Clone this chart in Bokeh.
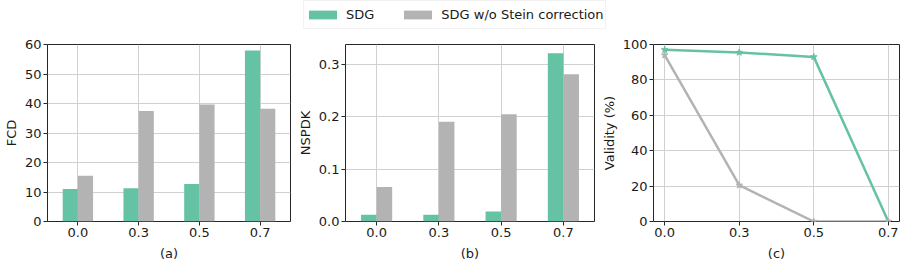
from bokeh.plotting import figure
from bokeh.layouts import column, row
from bokeh.models import (Range1d, FixedTicker, ColumnDataSource, Legend, LegendItem,
                          NumeralTickFormatter)
from bokeh.transform import dodge
from bokeh.embed import file_html
from bokeh.resources import INLINE

# ---- data ----
categories = ["0.0", "0.3", "0.5", "0.7"]
fcd_sdg = [11.0, 11.3, 12.7, 58.0]
fcd_nostein = [15.5, 37.5, 39.7, 38.2]
nspdk_sdg = [0.013, 0.013, 0.019, 0.322]
nspdk_nostein = [0.066, 0.191, 0.205, 0.282]
valid_sdg = [97.0, 95.5, 93.0, 0.0]
valid_nostein = [94.0, 20.5, 0.0, 0.0]
series_names = ["SDG", "SDG w/o Stein correction"]
sub_labels = ["(a)", "(b)", "(c)"]

GREEN = "#66c2a5"
GRAY = "#b3b3b3"
FONT = "DejaVu Sans"
FS = "13px"

xs = list(range(len(categories)))
overrides = {i: c for i, c in enumerate(categories)}


def style(p, ylabel, xlabel, yticks):
    p.outline_line_color = "#262626"
    p.outline_line_width = 1
    for ax in p.axis:
        ax.axis_line_color = None
        ax.major_tick_line_color = "#262626"
        ax.major_tick_out = 4
        ax.major_tick_in = 0
        ax.minor_tick_line_color = None
        ax.major_label_text_font = FONT
        ax.major_label_text_font_size = FS
        ax.major_label_text_color = "#1a1a1a"
        ax.axis_label_text_font = FONT
        ax.axis_label_text_font_size = FS
        ax.axis_label_text_font_style = "normal"
        ax.axis_label_text_color = "#1a1a1a"
        ax.major_label_standoff = 2
        ax.axis_label_standoff = 3
    p.xaxis.ticker = FixedTicker(ticks=xs)
    p.xaxis.major_label_overrides = overrides
    p.yaxis.ticker = FixedTicker(ticks=yticks)
    p.xaxis.axis_label = xlabel
    p.yaxis.axis_label = ylabel
    p.xaxis.axis_label_standoff = 6
    p.grid.grid_line_color = "#d0d0d0"
    p.grid.grid_line_width = 1
    p.background_fill_color = "white"


def make_fig(width, left, right, yr, xr):
    return figure(width=width, height=229, output_backend="svg", toolbar_location=None,
                  min_border_left=left, min_border_right=right, min_border_top=10,
                  min_border_bottom=42, x_range=xr, y_range=yr)


def bar_panel(width, left, right, a, b, ymax, ylabel, xlabel, yticks):
    p = make_fig(width, left, right, Range1d(0, ymax), Range1d(-0.5, 3.5))
    src = ColumnDataSource(dict(x=xs, a=a, b=b))
    p.vbar(x=dodge("x", -0.125), top="a", width=0.25, source=src,
           fill_color=GREEN, line_color=None)
    p.vbar(x=dodge("x", 0.125), top="b", width=0.25, source=src,
           fill_color=GRAY, line_color=None)
    style(p, ylabel, xlabel, yticks)
    return p


pa = bar_panel(294, 35, 4, fcd_sdg, fcd_nostein, 60, "FCD", sub_labels[0],
               [0, 10, 20, 30, 40, 50, 60])
pb = bar_panel(304, 45, 4, nspdk_sdg, nspdk_nostein, 0.3387, "NSPDK", sub_labels[1],
               [0, 0.1, 0.2, 0.3])
pb.yaxis.formatter = NumeralTickFormatter(format="0.0")

pc = make_fig(306, 48, 5, Range1d(0, 100), Range1d(-0.15, 3.15))
srcc = ColumnDataSource(dict(x=xs, a=valid_sdg, b=valid_nostein))
pc.line("x", "a", source=srcc, line_color=GREEN, line_width=2.5)
pc.scatter("x", "a", source=srcc, marker="star", size=7, fill_color=GREEN, line_color=GREEN)
pc.line("x", "b", source=srcc, line_color=GRAY, line_width=2.5)
pc.scatter("x", "b", source=srcc, marker="star", size=7, fill_color=GRAY, line_color=GRAY)
style(pc, "Validity (%)", sub_labels[2], [0, 20, 40, 60, 80, 100])

# ---- legend strip ----
pl = figure(width=904, height=34, output_backend="svg", toolbar_location=None,
            min_border=0, x_range=Range1d(0, 1), y_range=Range1d(0, 1),
            x_axis_location=None, y_axis_location=None)
pl.outline_line_color = None
pl.grid.visible = False
g1 = pl.vbar(x=[10], top=[1], width=0.1, fill_color=GREEN, line_color=None)
g2 = pl.vbar(x=[10], top=[1], width=0.1, fill_color=GRAY, line_color=None)
leg = Legend(items=[LegendItem(label=series_names[0], renderers=[g1]),
                    LegendItem(label=series_names[1], renderers=[g2])],
             orientation="horizontal", location=(303, 5))
leg.glyph_width = 35
leg.glyph_height = 11
leg.label_standoff = 6
leg.spacing = 26
leg.padding = 1
leg.margin = 0
leg.label_height = 25
leg.label_text_font = FONT
leg.label_text_font_size = FS
leg.label_text_color = "#1a1a1a"
leg.border_line_color = "#e6e6e6"
leg.border_line_width = 1
leg.background_fill_color = "white"
pl.add_layout(leg, "center")

layout = column(pl, row(pa, pb, pc, spacing=0), spacing=0)
open("out.html", "w").write(file_html(layout, INLINE))
